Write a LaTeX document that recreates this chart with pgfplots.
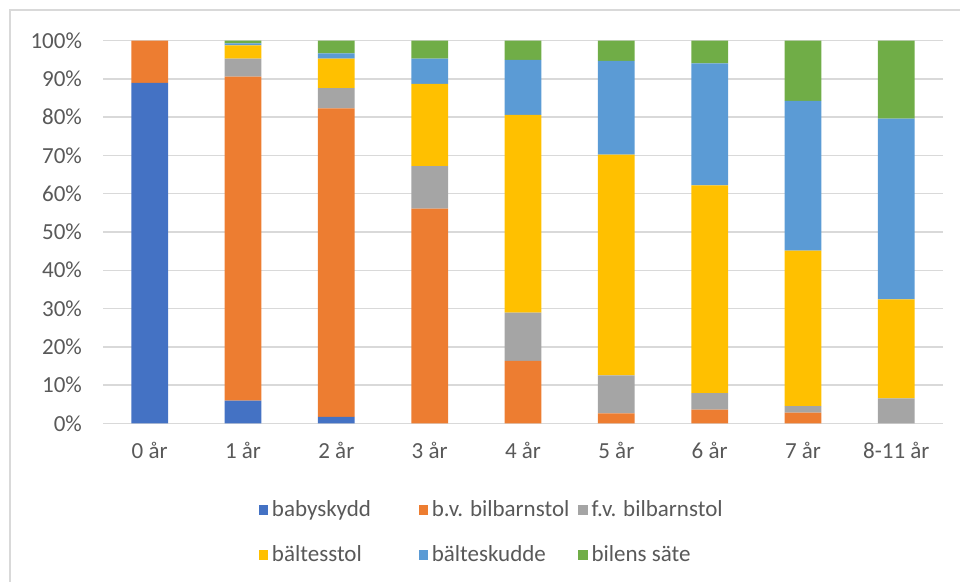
\documentclass[border=0pt]{standalone}
\usepackage{pgfplots}
\pgfplotsset{compat=1.18}
\usepackage{fontspec}
\setmainfont{Carlito}
\definecolor{cBaby}{HTML}{4472C4}
\definecolor{cBv}{HTML}{ED7D31}
\definecolor{cFv}{HTML}{A5A5A5}
\definecolor{cBst}{HTML}{FFC000}
\definecolor{cBku}{HTML}{5B9BD5}
\definecolor{cSat}{HTML}{70AD47}
\definecolor{cGrid}{HTML}{D9D9D9}
\definecolor{cTxt}{HTML}{595959}
\begin{document}
\begin{tikzpicture}
\path[use as bounding box] (0,0) rectangle (480pt,291pt);
\draw[cGrid, line width=0.75pt] (5pt,-1pt) -- (5pt,286pt) -- (481pt,286pt);
\begin{axis}[
  at={(51.5pt,79.35pt)}, anchor=south west,
  scale only axis, width=420pt, height=191.3pt,
  ybar stacked, bar width=18.35pt,
  xmin=-0.5, xmax=8.5, ymin=0, ymax=100,
  xtick={0,...,8},
  xticklabels={0 år,1 år,2 år,3 år,4 år,5 år,6 år,7 år,8-11 år},
  ytick={0,10,...,100},
  yticklabels={0\%,10\%,20\%,30\%,40\%,50\%,60\%,70\%,80\%,90\%,100\%},
  /pgf/number format/assume math mode=true,
  tick label style={font=\fontsize{11.5pt}{13pt}\selectfont, text=cTxt},
  yticklabel style={xshift=-7pt},
  xticklabel style={yshift=-6pt},
  major tick length=0pt,
  axis line style={draw=none},
  ymajorgrids, grid style={cGrid, line width=0.75pt},
  axis on top=false,
  legend columns=3,
  legend style={at={(0.185,-0.19)}, anchor=north west, draw=none, fill=none,
    inner sep=0pt, row sep=9pt,
    font=\fontsize{11.5pt}{13pt}\selectfont, text=cTxt,
    /tikz/every even column/.append style={column sep=0pt}},
  legend cell align=left,
  legend image code/.code={\fill[#1] (0pt,-2.4pt) rectangle (4.6pt,2.4pt);},
]
\addplot[fill=cBaby, draw=none] coordinates {(0,89.0) (1,5.9) (2,1.7) (3,0) (4,0) (5,0) (6,0) (7,0) (8,0)};
\addplot[fill=cBv, draw=none] coordinates {(0,11.0) (1,84.7) (2,80.6) (3,56.1) (4,16.3) (5,2.6) (6,3.6) (7,2.8) (8,0)};
\addplot[fill=cFv, draw=none] coordinates {(0,0) (1,4.7) (2,5.3) (3,11.1) (4,12.6) (5,9.9) (6,4.3) (7,1.7) (8,6.5)};
\addplot[fill=cBst, draw=none] coordinates {(0,0) (1,3.5) (2,7.7) (3,21.5) (4,51.7) (5,57.7) (6,54.3) (7,40.6) (8,25.9)};
\addplot[fill=cBku, draw=none] coordinates {(0,0) (1,0.5) (2,1.4) (3,6.6) (4,14.4) (5,24.5) (6,31.9) (7,39.2) (8,47.2)};
\addplot[fill=cSat, draw=none] coordinates {(0,0) (1,0.7) (2,3.3) (3,4.7) (4,5.0) (5,5.3) (6,5.9) (7,15.7) (8,20.4)};
\legend{\makebox[71.3pt][l]{babyskydd},\makebox[71.3pt][l]{b.v. bilbarnstol},\makebox[71.3pt][l]{f.v. bilbarnstol},\makebox[71.3pt][l]{bältesstol},\makebox[71.3pt][l]{bälteskudde},\makebox[71.3pt][l]{bilens säte}}
\end{axis}
\end{tikzpicture}
\end{document}
